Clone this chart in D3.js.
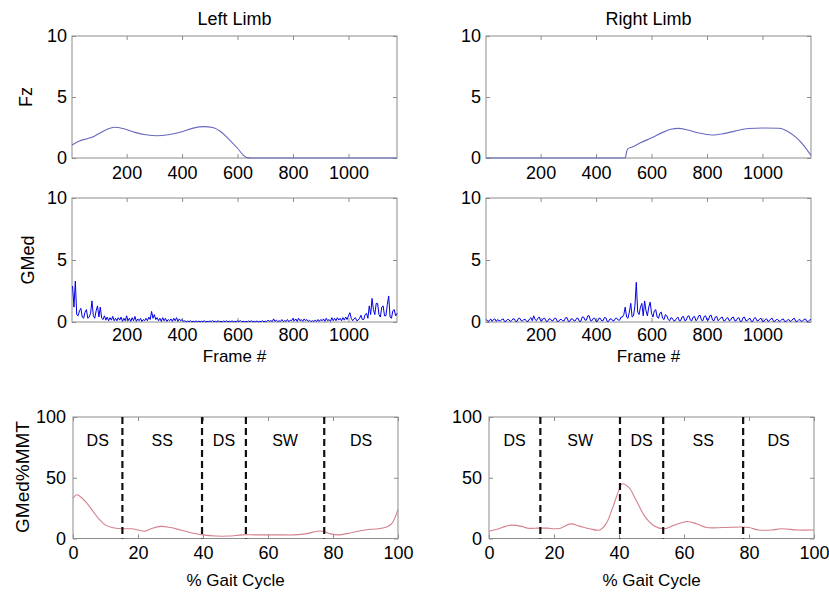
<!DOCTYPE html>
<html><head><meta charset="utf-8">
<script src="https://cdn.jsdelivr.net/npm/d3@7"></script>
<style>
body{margin:0;background:#fff}
text{font-family:"Liberation Sans",Arial,Helvetica,sans-serif;fill:#000}
</style>
</head><body>
<svg id="chart" width="829" height="596"></svg>
<script>
// ---------------- DATA ----------------
const frameTicks = [200, 400, 600, 800, 1000];
const topYTicks = [0, 5, 10];
const gaitTicks = [0, 20, 40, 60, 80, 100];
const gaitYTicks = [0, 50, 100];

// Fz (vertical ground reaction force), left limb
const fzLeftFrames = [3, 30, 60, 80, 100, 130, 155, 190, 230, 270, 310, 350, 400, 440, 478, 510, 540, 570, 600, 620, 634, 650, 700, 1175];
const fzLeftValues = [1.07, 1.4, 1.6, 1.75, 2.0, 2.35, 2.52, 2.4, 2.1, 1.9, 1.82, 1.9, 2.15, 2.45, 2.57, 2.5, 2.15, 1.5, 0.8, 0.25, 0.03, 0, 0, 0];
// Fz, right limb
const fzRightFrames = [3, 505, 510, 514, 530, 560, 600, 640, 670, 698, 730, 770, 818, 860, 900, 950, 1000, 1060, 1090, 1118, 1150, 1175];
const fzRightValues = [0, 0, 0.5, 0.75, 0.9, 1.25, 1.65, 2.1, 2.35, 2.43, 2.3, 2.05, 1.89, 2.0, 2.2, 2.42, 2.46, 2.44, 2.2, 1.75, 1.0, 0.2];

// GMed EMG, sampled every 5 frames starting at frame 5
const gmedStart = 5, gmedStep = 5;
const gmedLeft = [
 2.9, 1.2, 3.3, 0.6, 0.5, 0.9, 1.1, 0.4, 0.3, 0.8, 1.0, 0.3, 0.4, 0.7, 1.7, 0.5, 0.3, 0.9, 1.3, 0.4,
 1.2, 0.3, 0.2, 0.5, 0.15, 0.4, 0.1, 0.35, 0.15, 0.45, 0.1, 0.3, 0.1, 0.35, 0.15, 0.4, 0.05, 0.3, 0.1, 0.5,
 0.1, 0.3, 0.05, 0.35, 0.1, 0.45, 0.05, 0.25, 0.1, 0.3, 0.05, 0.2, 0.1, 0.3, 0.1, 0.4, 0.2, 0.85, 0.3, 0.6,
 0.2, 0.35, 0.1, 0.3, 0.05, 0.35, 0.1, 0.3, 0.05, 0.2, 0.1, 0.25, 0.05, 0.3, 0.1, 0.35, 0.05, 0.25, 0.1, 0.2,
 0.05, 0.1, 0.02, 0.08, 0.03, 0.1, 0.02, 0.06, 0.02, 0.08, 0.03, 0.07, 0.02, 0.06, 0.03, 0.1, 0.02, 0.05, 0.03, 0.08,
 0.03, 0.12, 0.02, 0.06, 0.02, 0.1, 0.03, 0.05, 0.02, 0.08, 0.03, 0.1, 0.02, 0.06, 0.03, 0.09, 0.02, 0.05, 0.03, 0.1,
 0.03, 0.12, 0.02, 0.06, 0.03, 0.05, 0.02, 0.08, 0.03, 0.1, 0.02, 0.06, 0.03, 0.08, 0.02, 0.05, 0.03, 0.1, 0.02, 0.07,
 0.03, 0.15, 0.05, 0.12, 0.03, 0.25, 0.05, 0.15, 0.03, 0.1, 0.05, 0.2, 0.03, 0.12, 0.05, 0.2, 0.03, 0.15, 0.1, 0.3,
 0.1, 0.25, 0.05, 0.3, 0.1, 0.2, 0.05, 0.25, 0.1, 0.2, 0.05, 0.15, 0.03, 0.1, 0.05, 0.15, 0.03, 0.2, 0.05, 0.2,
 0.1, 0.25, 0.05, 0.3, 0.1, 0.2, 0.05, 0.35, 0.1, 0.3, 0.1, 0.35, 0.15, 0.3, 0.1, 0.35, 0.15, 0.4, 0.2, 0.5,
 0.75, 0.3, 0.1, 0.25, 0.35, 0.1, 0.15, 0.3, 0.55, 0.2, 0.2, 0.6, 0.7, 0.3, 1.3, 0.6, 1.9, 1.0, 0.6, 1.5,
 1.5, 0.6, 0.4, 1.2, 1.3, 0.5, 0.5, 1.4, 2.1, 0.4, 0.3, 0.9, 1.0, 0.5, 0.7
];
const gmedRight = [
 0.2, 0.05, 0.1, 0.25, 0.05, 0.2, 0.25, 0.05, 0.2, 0.1, 0.1, 0.2, 0.25, 0.05, 0.05, 0.2, 0.2, 0.05, 0.1, 0.25,
 0.25, 0.05, 0.05, 0.3, 0.3, 0.1, 0.1, 0.2, 0.2, 0.05, 0.05, 0.25, 0.35, 0.1, 0.5, 0.2, 0.1, 0.3, 0.4, 0.1,
 0.1, 0.3, 0.3, 0.05, 0.05, 0.25, 0.25, 0.1, 0.1, 0.3, 0.3, 0.05, 0.05, 0.2, 0.2, 0.1, 0.1, 0.35, 0.35, 0.05,
 0.05, 0.25, 0.25, 0.1, 0.1, 0.3, 0.3, 0.05, 0.05, 0.4, 0.4, 0.15, 0.15, 0.5, 0.5, 0.1, 0.1, 0.3, 0.3, 0.05,
 0.05, 0.3, 0.3, 0.1, 0.1, 0.35, 0.35, 0.05, 0.05, 0.25, 0.25, 0.1, 0.1, 0.3, 0.3, 0.15, 0.15, 0.4, 0.4, 0.6,
 1.2, 0.4, 0.3, 0.8, 1.5, 0.4, 0.5, 1.3, 3.2, 0.8, 0.6, 1.2, 1.5, 0.5, 1.7, 0.9, 0.5, 1.2, 1.6, 0.7,
 0.4, 0.9, 1.0, 0.4, 0.3, 0.7, 0.8, 0.3, 0.2, 0.6, 0.5, 0.2, 0.1, 0.35, 0.3, 0.1, 0.1, 0.3, 0.4, 0.1,
 0.1, 0.4, 0.45, 0.1, 0.15, 0.45, 0.5, 0.15, 0.1, 0.4, 0.45, 0.1, 0.2, 0.5, 0.55, 0.15, 0.1, 0.45, 0.5, 0.15,
 0.15, 0.5, 0.55, 0.15, 0.1, 0.4, 0.45, 0.1, 0.2, 0.35, 0.4, 0.1, 0.1, 0.3, 0.35, 0.1, 0.15, 0.35, 0.4, 0.1,
 0.1, 0.3, 0.35, 0.05, 0.05, 0.35, 0.4, 0.1, 0.1, 0.25, 0.3, 0.05, 0.05, 0.3, 0.35, 0.1, 0.1, 0.25, 0.3, 0.05,
 0.05, 0.2, 0.25, 0.05, 0.1, 0.25, 0.3, 0.05, 0.05, 0.2, 0.2, 0.05, 0.1, 0.2, 0.25, 0.05, 0.05, 0.15, 0.2, 0.05,
 0.1, 0.25, 0.3, 0.05, 0.05, 0.15, 0.2, 0.05, 0.1, 0.2, 0.25, 0.05, 0.05, 0.15, 0.2
];

// GMed %MMT over gait cycle
const gaitLeftPct = [0,1,2,4,6,8,10,12,15,18,20,22,24,27,30,33,36,40,44,48,52,56,60,64,68,72,75,77,79,82,86,90,94,96,98,100];
const gaitLeftValues = [33,36,35,30,23,16,11,9,8,8,7,6,8,10,9,7,5,3,2,2,3,3,3,3,3,4,6,6,4,3,5,7,8,9,12,24];
const gaitRightPct = [0,3,5,7,10,12,15,18,20,22,25,28,31,34,36,38,40,41,43,45,48,51,54,57,61,64,67,72,78,80,83,87,90,95,100];
const gaitRightValues = [6,8,10,11,10,8.5,8.5,8.5,8,8.5,12,10,8,7,12,25,40,45,42,33,18,10,8,11,14,12,9,9,9.5,9,7,7,8,7,7];

const phaseLeftBounds = [15.2, 39.7, 53.2, 77.3];
const phaseLeftLabels = ["DS", "SS", "DS", "SW", "DS"];
const phaseRightBounds = [15.8, 40.3, 53.6, 78.2];
const phaseRightLabels = ["DS", "SW", "DS", "SS", "DS"];

const titles = ["Left Limb", "Right Limb"];

// ---------------- DRAWING ----------------
const svg = d3.select("#chart");
const BOX = "#8c8c8c";

function panel(x0, y0, w, h, xDom, yDom, xTicks, yTicks, padX, padY) {
  const g = svg.append("g").attr("transform", `translate(${x0},${y0})`);
  const x = d3.scaleLinear().domain(xDom).range([0, w]);
  const y = d3.scaleLinear().domain(yDom).range([h, 0]);
  const styleAxis = sel => {
    sel.select(".domain").remove();
    sel.selectAll(".tick line").attr("stroke", BOX);
    sel.selectAll(".tick text").style("font-size", "18px").attr("fill", "#000");
  };
  g.append("g").attr("transform", `translate(0,${h})`)
    .call(d3.axisBottom(x).tickValues(xTicks).tickSizeInner(-4).tickSizeOuter(0).tickPadding(padX).tickFormat(d3.format("d")))
    .call(styleAxis);
  g.append("g")
    .call(d3.axisTop(x).tickValues(xTicks).tickSizeInner(-4).tickSizeOuter(0).tickFormat(""))
    .call(styleAxis);
  g.append("g")
    .call(d3.axisLeft(y).tickValues(yTicks).tickSizeInner(-4).tickSizeOuter(0).tickPadding(padY).tickFormat(d3.format("d")))
    .call(styleAxis);
  g.append("g").attr("transform", `translate(${w},0)`)
    .call(d3.axisRight(y).tickValues(yTicks).tickSizeInner(-4).tickSizeOuter(0).tickFormat(""))
    .call(styleAxis);
  g.append("rect").attr("width", w).attr("height", h)
    .attr("fill", "none").attr("stroke", BOX).attr("stroke-width", 1);
  const plot = g.append("g");
  return {g, plot, x, y, w, h};
}

const colX = [72, 486];
const colXb = [73, 489];
const W = 325;

// Titles
titles.forEach((t, i) => {
  svg.append("text").attr("x", colX[i] + W / 2).attr("y", 25)
    .attr("text-anchor", "middle").style("font-size", "18px").text(t);
});

// Row 1: Fz
const fzSets = [[fzLeftFrames, fzLeftValues], [fzRightFrames, fzRightValues]];
fzSets.forEach(([fr, vals], i) => {
  const p = panel(colX[i], 36, W, 122, [3, 1175], [0, 10], frameTicks, topYTicks, 8, 5);
  const line = d3.line().x((d, k) => p.x(fr[k])).y(d => p.y(d)).curve(d3.curveMonotoneX);
  p.plot.append("path").datum(vals).attr("d", line)
    .attr("fill", "none").attr("stroke", "#6868c0").attr("stroke-width", 1.1);
});

// Row 2: GMed raw
[gmedLeft, gmedRight].forEach((vals, i) => {
  const p = panel(colX[i], 198, W, 124, [3, 1175], [0, 10], frameTicks, topYTicks, 6, 5);
  const line = d3.line().x((d, k) => p.x(gmedStart + k * gmedStep)).y(d => p.y(d));
  p.plot.append("path").datum(vals).attr("d", line)
    .attr("fill", "none").attr("stroke", "#0000e6").attr("stroke-width", 1)
    .attr("stroke-linejoin", "round");
  svg.append("text").attr("x", colX[i] + W / 2).attr("y", 362)
    .attr("text-anchor", "middle").style("font-size", "17px").text("Frame #");
});

// Row 3: gait cycle
const gaitSets = [
  [gaitLeftPct, gaitLeftValues, phaseLeftBounds, phaseLeftLabels],
  [gaitRightPct, gaitRightValues, phaseRightBounds, phaseRightLabels]
];
gaitSets.forEach(([pct, vals, bounds, labels], i) => {
  const p = panel(colXb[i], 417, W, 121.5, [0, 100], [0, 100], gaitTicks, gaitYTicks, 8, 7);
  const line = d3.line().x((d, k) => p.x(pct[k])).y(d => p.y(d)).curve(d3.curveCatmullRom.alpha(0.5));
  p.plot.append("path").datum(vals).attr("d", line)
    .attr("fill", "none").attr("stroke", "#d4808c").attr("stroke-width", 1.1);
  p.plot.selectAll("line.phase").data(bounds).enter().append("line")
    .attr("class", "phase")
    .attr("x1", d => p.x(d)).attr("x2", d => p.x(d))
    .attr("y1", p.y(100)).attr("y2", p.y(0))
    .attr("stroke", "#111").attr("stroke-width", 2.2).attr("stroke-dasharray", "7,4");
  const edges = [0, ...bounds, 100];
  p.plot.selectAll("text.phase").data(labels).enter().append("text")
    .attr("x", (d, k) => p.x((edges[k] + edges[k + 1]) / 2))
    .attr("y", p.y(81))
    .attr("dy", "0.35em")
    .attr("text-anchor", "middle").style("font-size", "16px").text(d => d);
  svg.append("text").attr("x", colXb[i] + W / 2).attr("y", 586)
    .attr("text-anchor", "middle").style("font-size", "17px").text("% Gait Cycle");
});

// Y-axis labels
const yLabels = [["Fz", 26, 97, 18], ["GMed", 28, 260, 18], ["GMed%MMT", 22, 477, 19]];
yLabels.forEach(([t, cx, cy, fs]) => {
  svg.append("text").attr("transform", `translate(${cx},${cy}) rotate(-90)`)
    .attr("text-anchor", "middle").attr("dy", "0.35em")
    .style("font-size", fs + "px").text(t);
});
</script>
</body></html>
